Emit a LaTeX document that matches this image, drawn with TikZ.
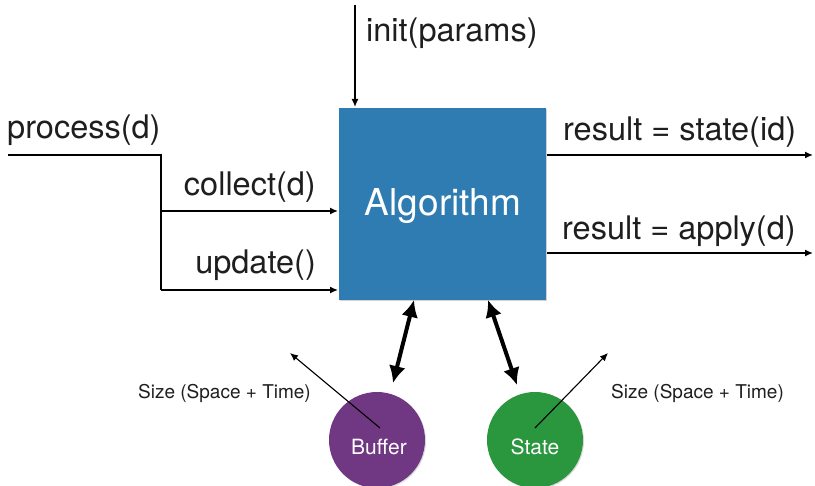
\documentclass[tikz,border=0pt]{standalone}
\usepackage{fontspec}
\setmainfont{TeX Gyre Heros}
\usetikzlibrary{arrows.meta,shadows}
\definecolor{algblue}{RGB}{46,124,178}
\definecolor{bufpurple}{RGB}{112,56,130}
\definecolor{stgreen}{RGB}{42,150,62}
\definecolor{ink}{RGB}{30,30,30}
\tikzset{
  arr/.style={line width=1.4pt,-{Latex[length=8pt,width=7pt]}},
  plain/.style={line width=1.4pt},
  bigarr/.style={line width=4pt,{Latex[length=17pt,width=17pt]}-{Latex[length=17pt,width=17pt]}},
  thinarr/.style={line width=1.1pt,-{Latex[length=8pt,width=7pt]}},
  lbl/.style={font=\fontsize{32.5}{36}\selectfont,inner sep=0pt,text=ink},
  small/.style={font=\fontsize{19}{22}\selectfont,inner sep=0pt,text=ink},
  blob/.style={circle,minimum size=96pt,inner sep=0pt,drop shadow={shadow xshift=1pt,shadow yshift=-1pt,opacity=0.3}},
  blobtxt/.style={text=white,font=\fontsize{21}{24}\selectfont,inner sep=0pt}
}
\begin{document}
\begin{tikzpicture}[x=1pt,y=-1pt]
\useasboundingbox (0,0) rectangle (815,486);
% main box
\node[fill=algblue,minimum width=207pt,minimum height=192pt,inner sep=0pt,
      drop shadow={shadow xshift=1pt,shadow yshift=-1.5pt,opacity=0.35}]
      (alg) at (442.5,204) {};
\node[text=white,font=\fontsize{37}{40}\selectfont,inner sep=0pt] (algt) at (443,206) {Algorithm};
% init
\coordinate (i0) at (355,5);
\coordinate (i1) at (355,107);
\draw[arr] (i0) -- (i1);
\node[lbl,anchor=west] (initl) at (366,33) {init(params)};
% process
\coordinate (p0) at (8,155);
\coordinate (pj) at (161,155);
\coordinate (pb1) at (161,211);
\coordinate (pb2) at (161,290);
\coordinate (a1) at (338,211);
\coordinate (a2) at (338,290);
\draw[plain] (p0) -- (pj) -- (pb2);
\draw[arr] (pb1) -- (a1);
\draw[arr] (pb2) -- (a2);
\node[lbl,anchor=west] (procl) at (7,130) {process(d)};
\node[lbl,anchor=east] (coll) at (316,187) {collect(d)};
\node[lbl,anchor=east] (updl) at (316,265) {update()};
% outputs
\coordinate (o1s) at (547,155);
\coordinate (o1e) at (813,155);
\coordinate (o2s) at (547,253);
\coordinate (o2e) at (813,253);
\draw[arr] (o1s) -- (o1e);
\draw[arr] (o2s) -- (o2e);
\node[lbl,anchor=west] (r1) at (563,132) {result = state(id)};
\node[lbl,anchor=west] (r2) at (562,231) {result = apply(d)};
% buffer and state
\node[blob,fill=bufpurple] (buf) at (377,440) {};
\node[blob,fill=stgreen] (st) at (535,440) {};
\node[blobtxt] (buft) at (379,447) {Buffer};
\node[blobtxt] (stt0) at (535,447) {State};
\coordinate (b0) at (414,300);
\coordinate (b1) at (393,383);
\coordinate (s0) at (488,300);
\coordinate (s1) at (517,385);
\draw[bigarr] (b0) -- (b1);
\draw[bigarr] (s0) -- (s1);
% size arrows
\coordinate (bc) at (380,428);
\coordinate (bt) at (290,353);
\coordinate (sc) at (535,428);
\coordinate (stt) at (608,353);
\draw[thinarr] (bc) -- (bt);
\draw[thinarr] (sc) -- (stt);
\node[small,anchor=east] (sz1) at (311,393) {Size (Space + Time)};
\node[small,anchor=west] (sz2) at (611,393) {Size (Space + Time)};
\end{tikzpicture}
\end{document}
